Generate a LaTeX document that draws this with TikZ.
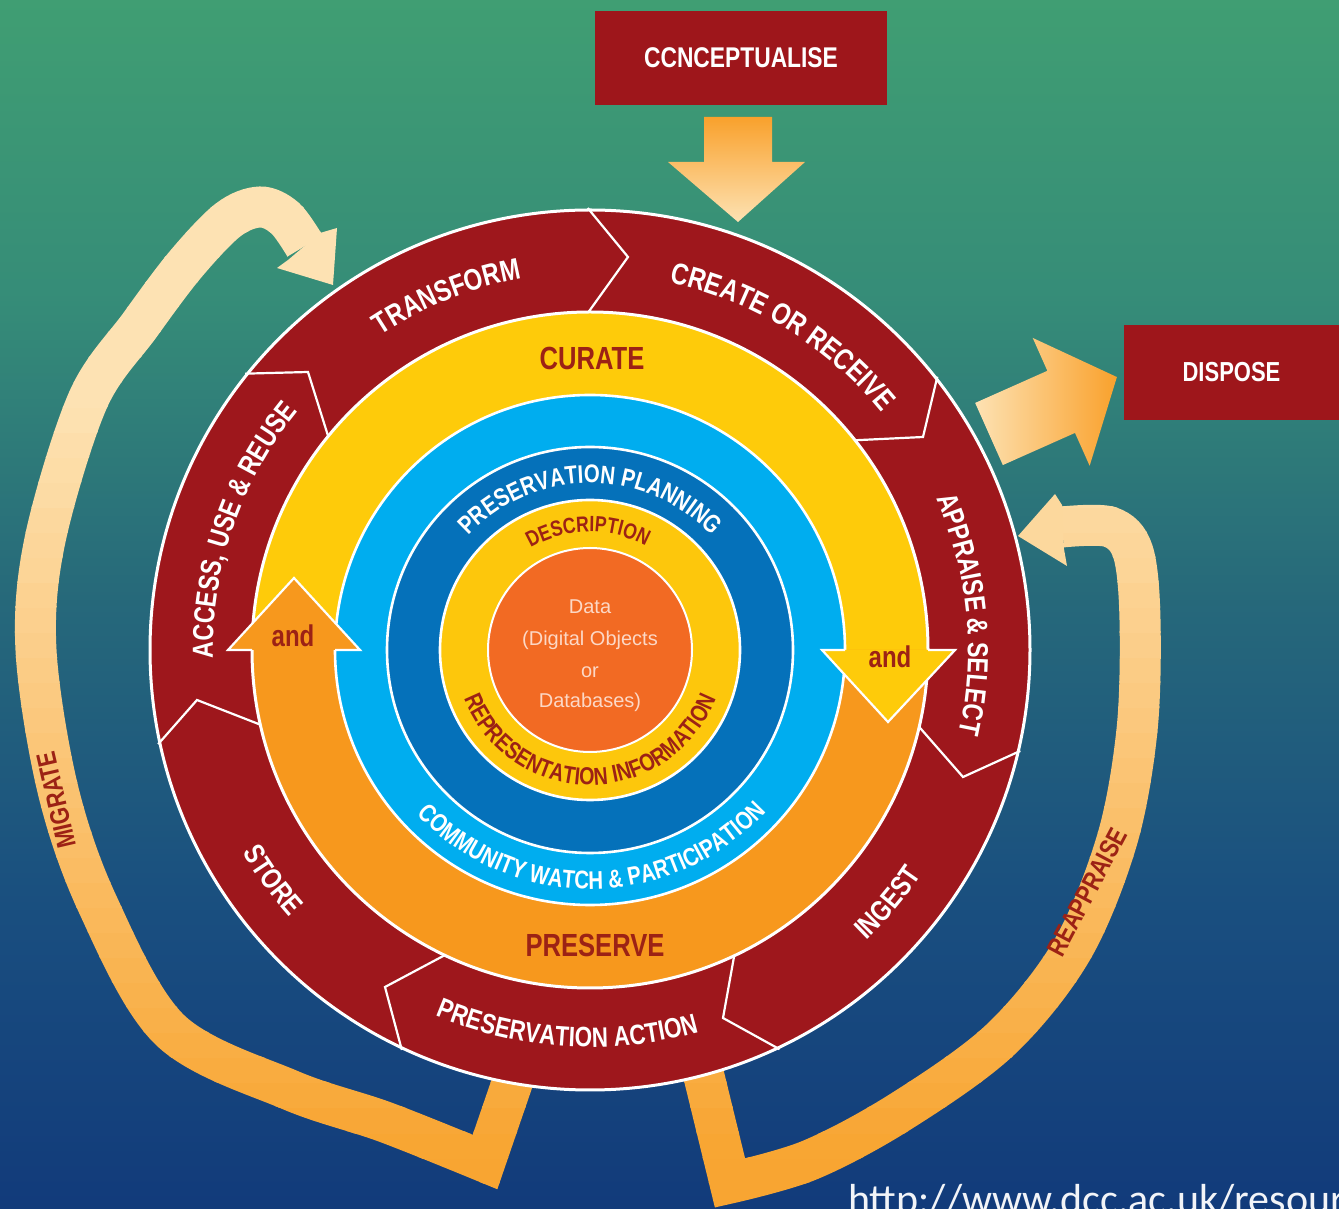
\documentclass[tikz,border=0pt]{standalone}
\usepackage{fontspec}
\setmainfont{Liberation Sans}
\newfontfamily\lblfont[FakeStretch=0.8]{Liberation Sans}
\newfontfamily\urlfont{Carlito}
\usetikzlibrary{decorations.text}

\definecolor{ringred}{HTML}{9E171C}
\definecolor{boxred}{HTML}{9E161B}
\definecolor{curyellow}{HTML}{FECB0A}
\definecolor{presorange}{HTML}{F7981D}
\definecolor{lblue}{HTML}{00ADEF}
\definecolor{dblue}{HTML}{0571BA}
\definecolor{iyellow}{HTML}{FDC70C}
\definecolor{corange}{HTML}{F26A23}
\definecolor{txtred}{HTML}{9C2215}
\definecolor{bandpale}{HTML}{FDE2B3}
\definecolor{bandorange}{HTML}{F8A532}
\definecolor{arroworange}{HTML}{F9A12C}
\definecolor{centertext}{HTML}{FCD8C6}
\definecolor{urlcol}{HTML}{F2F4F8}

\pgfdeclareverticalshading{bgshade}{100bp}{rgb(0bp)=(0.07,0.23,0.48); rgb(25bp)=(0.07,0.23,0.48); rgb(37.7bp)=(0.10,0.31,0.50); rgb(50.2bp)=(0.15,0.41,0.48); rgb(62.6bp)=(0.21,0.55,0.47); rgb(75bp)=(0.25,0.62,0.45); rgb(100bp)=(0.25,0.62,0.45)}

\tikzset{
  bandline/.style={line width=41pt, line join=miter, line cap=butt},
  boxnode/.style={fill=boxred, text=white, inner sep=0pt, font=\lblfont\bfseries\fontsize{28.5}{28.5}\selectfont},
  ringtxt/.style={text=txtred, inner sep=0pt, font=\lblfont\bfseries\fontsize{32}{32}\selectfont},
  andtxt/.style={text=txtred, inner sep=0pt, font=\lblfont\bfseries\fontsize{30}{30}\selectfont},
  coretxt/.style={text=centertext, inner sep=0pt, font=\fontsize{20}{20}\selectfont},
  bandtxt/.style={text=txtred, inner sep=0pt, font=\lblfont\bfseries\fontsize{27}{27}\selectfont},
  chevron/.style={white, line width=2.2pt, line join=miter},
  ringborder/.style={white, line width=2.6pt},
}

% clockwise text (reads left to right over the top)
\newcommand\cwtext[6]{%
  \path[decorate,decoration={text along path, text align=center, text color=#5,
    text={|\lblfont\bfseries\fontsize{#4}{#4}\selectfont|#6}}]
    ({#1+#2}:#3) arc[start angle={#1+#2}, end angle={#1-#2}, radius=#3];}
% counter-clockwise text (reads left to right along the bottom)
\newcommand\ccwtext[6]{%
  \path[decorate,decoration={text along path, text align=center, text color=#5,
    text={|\lblfont\bfseries\fontsize{#4}{#4}\selectfont|#6}}]
    ({#1-#2}:#3) arc[start angle={#1-#2}, end angle={#1+#2}, radius=#3];}

\newcommand\migband[1]{\draw[bandline,draw=#1] (520,148) -- plot[smooth,tension=0.55] coordinates {(485,46) (385,86) (290,118) (170,178) (98,303) (58,418) (36,558) (45,668) (88,808) (140,883) (185,943) (228,988) (260,1001) (285,990) (305,962)};}
\newcommand\reband[1]{\draw[bandline,draw=#1] (700,148) -- plot[smooth,tension=0.55] coordinates {(730,25) (810,48) (900,96) (1000,168) (1072,258) (1117,368) (1137,478) (1140,588) (1133,656) (1110,681) (1062,681)};}

\begin{document}
\begin{tikzpicture}[x=1pt,y=1pt]
\useasboundingbox (0,0) rectangle (1339,1208);
\shade[shading=bgshade] (0,0) rectangle (1339,1208);

% ---- migrate / reappraise bands with vertical gradient
\foreach \k in {0,...,48}{%
  \pgfmathsetmacro\ya{\k*25}
  \pgfmathtruncatemacro\bandmix{max(0,min(100,(1208-\ya-12.5-400)/7.5))}
  \begin{scope}
    \clip (0,\ya) rectangle (1339,\ya+26);
    \migband{bandorange!\bandmix!bandpale}
    \reband{bandorange!\bandmix!bandpale}
  \end{scope}
}
\fill[bandpale] (320,975) -- (337,980) -- (333,923) -- (277,940) -- (288,948) -- cycle;
\fill[bandorange!17!bandpale] (1062,703) -- (1055,714) -- (1018,672) -- (1067,642) -- (1064,659) -- cycle;
\node[bandtxt, rotate=103] (migrate) at (56,408) {MIGRATE};
\node[bandtxt, rotate=62] (reappraise) at (1087,316) {REAPPRAISE};

% ---- conceptualise box and arrow
\node[boxnode, minimum width=292pt, minimum height=94pt] (concept) at (741,1150) {CCNCEPTUALISE};
\shade[top color=arroworange, bottom color=bandpale]
  (704,1091) -- (772,1091) -- (772,1046) -- (805,1046) -- (738,986) -- (668,1046) -- (704,1046) -- cycle;

% ---- dispose box and arrow
\node[boxnode, minimum width=215pt, minimum height=95pt, font=\lblfont\bfseries\fontsize{27.5}{27.5}\selectfont] (dispose) at (1231.5,835.5) {DISPOSE};
\begin{scope}[shift={(989,774)}, rotate=24]
  \shade[left color=bandpale, right color=arroworange]
    (0,-34) -- (79,-34) -- (79,-70) -- (140,0) -- (79,70) -- (79,34) -- (0,34) -- cycle;
\end{scope}

% ---- lifecycle wheel
\begin{scope}[shift={(590,558)}]
  \fill[ringred] (0,0) circle[radius=440];
  \draw[chevron] (90.3:442) -- (38,393) -- (90.5:336);
  \draw[chevron] (38.2:442) -- (333,213) -- (38.6:336);
  \draw[chevron] (-12.9:336) -- (373,-127) -- (-13.2:442);
  \draw[chevron] (-64.5:336) -- (133,-368) -- (-64.6:442);
  \draw[chevron] (244.8:336) -- (-205,-337) -- (244.8:442);
  \draw[chevron] (193:336) -- (-393,-50) -- (192.3:442);
  \draw[chevron] (141.3:442) -- (-282,278) -- (141:336);
  \draw[ringborder, line width=3pt] (0,0) circle[radius=440];

  \fill[curyellow] (0:338) arc[start angle=0, end angle=180, radius=338] -- cycle;
  \fill[presorange] (180:338) arc[start angle=180, end angle=360, radius=338] -- cycle;
  \draw[ringborder, line width=3pt] (0,0) circle[radius=338];
  \fill[lblue] (0,0) circle[radius=255];
  \draw[ringborder] (0,0) circle[radius=255];
  \fill[dblue] (0,0) circle[radius=203];
  \draw[ringborder] (0,0) circle[radius=203];
  \fill[iyellow] (0,0) circle[radius=150];
  \draw[ringborder] (0,0) circle[radius=150];
  \fill[corange] (0,0) circle[radius=102];
  \draw[ringborder, line width=2pt] (0,0) circle[radius=102];

  % curate / preserve arrow heads
  \fill[presorange] (-338,0) -- (-362,0) -- (-296,72) -- (-230,0) -- (-255,0) -- cycle;
  \draw[ringborder, line width=2.2pt, line join=miter] (-338,0) -- (-362,0) -- (-296,72) -- (-230,0) -- (-255,0);
  \fill[curyellow] (338,0) -- (365,0) -- (298,-72) -- (232,0) -- (255,0) -- cycle;
  \draw[ringborder, line width=2.2pt, line join=miter] (338,0) -- (365,0) -- (298,-72) -- (232,0) -- (255,0);

  \node[ringtxt] (curate) at (2,292) {CURATE};
  \node[ringtxt] (preserve) at (5,-295) {PRESERVE};
  \node[andtxt] (andl) at (-297,14) {and};
  \node[andtxt] (andr) at (300,-7) {and};

  % outer ring labels
  \cwtext{112}{45}{378}{30}{white}{TRANSFORM}
  \cwtext{58.5}{45}{376}{30}{white}{CREATE OR RECEIVE}
  \cwtext{5.5}{45}{378}{29}{white}{APPRAISE {\&} SELECT}
  \ccwtext{319.7}{40}{401}{29}{white}{INGEST}
  \ccwtext{266.5}{45}{397}{28}{white}{PRESERVATION ACTION}
  \ccwtext{216}{40}{402}{29}{white}{STORE}
  \cwtext{161}{45}{377}{29}{white}{ACCESS, USE {\&} REUSE}

  % inner labels
  \cwtext{90}{85}{167}{25.5}{white}{PRESERVATION PLANNING}
  \cwtext{91}{85}{118}{22}{txtred}{DESCRIPTION}
  \ccwtext{270}{88}{135}{24.5}{txtred}{REPRESENTATION INFORMATION}
  \ccwtext{270.5}{75}{239}{25.5}{white}{COMMUNITY WATCH {\&} PARTICIPATION}

  % core
  \node[coretxt] (c1) at (0,43) {Data};
  \node[coretxt] (c2) at (0,10) {(Digital Objects};
  \node[coretxt] (c3) at (0,-22) {or};
  \node[coretxt] (c4) at (0,-52) {Databases)};
\end{scope}

\node[anchor=base west, inner sep=0pt, text=urlcol, font=\urlfont\fontsize{42}{42}\selectfont] (url) at (848,-5) {http://www.dcc.ac.uk/resour};
\end{tikzpicture}
\end{document}
